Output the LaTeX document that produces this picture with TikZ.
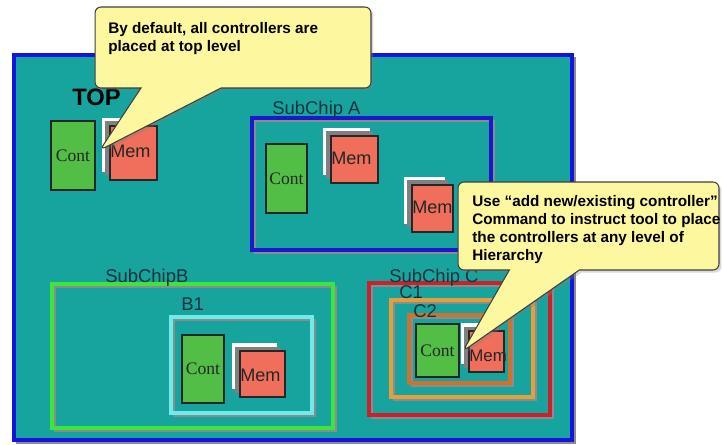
\documentclass[tikz,border=0pt]{standalone}
\usepackage{fontspec}
\setmainfont{Liberation Sans}
\newfontfamily\lserif{Liberation Serif}
\usetikzlibrary{shapes.callouts,shadows}
\definecolor{tealbg}{RGB}{24,164,158}
\definecolor{topblue}{RGB}{20,20,225}
\definecolor{subablue}{RGB}{25,25,205}
\definecolor{subbgreen}{RGB}{60,230,60}
\definecolor{bcyan}{RGB}{110,235,235}
\definecolor{subcred}{RGB}{200,35,45}
\definecolor{c1orange}{RGB}{225,160,60}
\definecolor{c2orange}{RGB}{205,115,45}
\definecolor{contgreen}{RGB}{82,190,70}
\definecolor{memred}{RGB}{240,110,92}
\definecolor{lblcol}{RGB}{20,50,60}
\definecolor{callyellow}{RGB}{253,247,160}
\begin{document}
\begin{tikzpicture}[x=0.02cm,y=-0.02cm,
  chipshadow/.style={draw=black!45, line width=1.3pt},
  chip/.style={line width=1.9pt},
  contbox/.style={draw=black!85, fill=contgreen, line width=0.9pt},
  membox/.style={draw=black!85, fill=memred, line width=0.9pt},
  memhi/.style={fill=white},
  memlo/.style={fill=black!50},
  conttext/.style={font=\lserif\fontsize{10}{12}\selectfont, text=black!85, inner sep=0},
  memtext/.style={font=\fontsize{10.3}{12}\selectfont, text=black!85, inner sep=0, anchor=base west},
  lbl/.style={font=\fontsize{10.5}{12}\selectfont, text=lblcol, inner sep=0, anchor=base west},
  callout/.style={rectangle callout, draw=black!75, fill=callyellow, line width=0.6pt,
    rounded corners=0.12cm, inner sep=0,
    drop shadow={shadow xshift=0.05cm, shadow yshift=-0.05cm, opacity=0.3}},
  callouttext/.style={font=\bfseries\fontsize{8.7}{10.2}\selectfont, align=left, anchor=north west, inner sep=0}
]
\useasboundingbox (0,0) rectangle (722,444);

% top level
\draw[chipshadow] (17,58) rectangle (575,443);
\fill[tealbg] (14,55) rectangle (572,440);
\draw[topblue, line width=2.3pt] (14,55) rectangle (572,440);
\node[font=\bfseries\fontsize{13.5}{15}\selectfont, inner sep=0, anchor=base west] (toplbl) at (72,105) {TOP};

% top cont/mem
\path[contbox] (51,121) rectangle (95,190);
\node[conttext] (c0) at (73,155.5) {Cont};
\fill[memhi] (102,118) rectangle (149,172);
\fill[memlo] (105,121) rectangle (152,175);
\path[membox] (110,126) rectangle (157,180);
\node[memtext] (m0) at (110,157) {Mem};

% SubChip A
\draw[chipshadow] (255,121) rectangle (494,253);
\draw[chip, subablue] (252,118) rectangle (491,250);
\node[lbl] (la) at (272,114) {SubChip A};
\path[contbox] (266,144) rectangle (307,213);
\node[conttext] (ca) at (286.5,178.5) {Cont};
\fill[memhi] (323,128) rectangle (370,175);
\fill[memlo] (326,131) rectangle (373,178);
\path[membox] (331,136) rectangle (378,183);
\node[memtext] (ma1) at (331,164) {Mem};
\fill[memhi] (404,177) rectangle (445,224);
\fill[memlo] (407,180) rectangle (448,227);
\path[membox] (412,185) rectangle (453,232);
\node[memtext] (ma2) at (412,213) {Mem};

% SubChipB
\draw[chipshadow] (55,287) rectangle (336,431);
\draw[chip, subbgreen] (52,284) rectangle (333,428);
\node[lbl] (lb) at (105,282) {SubChipB};
\draw[chipshadow] (174,320) rectangle (315,416);
\draw[chip, bcyan] (171,317) rectangle (312,413);
\node[lbl] (lb1) at (181,310) {B1};
\path[contbox] (182,335) rectangle (224,403);
\node[conttext] (cb) at (203,369) {Cont};
\fill[memhi] (232,343) rectangle (277,389);
\fill[memlo] (235,347) rectangle (280,393);
\path[membox] (240,351) rectangle (285,397);
\node[memtext] (mb) at (240,381) {Mem};

% SubChip C
\draw[chipshadow] (372,286) rectangle (553,418);
\draw[chip, subcred] (369,283) rectangle (550,415);
\node[lbl] (lc) at (389,282) {SubChip C};
\draw[chipshadow] (394,303) rectangle (536,400);
\draw[chip, c1orange] (391,300) rectangle (533,397);
\node[lbl] (lc1) at (399,298) {C1};
\draw[chipshadow] (412,318) rectangle (513,386);
\draw[chip, c2orange] (409,315) rectangle (510,383);
\node[lbl] (lc2) at (413,317) {C2};
\path[contbox] (416,324) rectangle (459,377);
\node[conttext] (cc) at (437.5,350.5) {Cont};
\fill[memhi] (461,323) rectangle (496,364);
\fill[memlo] (464,327) rectangle (499,368);
\path[membox] (469,331) rectangle (504,372);
\node[memtext, font=\fontsize{9.6}{11}\selectfont] (mc) at (469,361) {Mem};

% callouts
\coordinate (tip1) at (100,150);
\coordinate (tip2) at (463,351);
\node[callout, minimum width=5.52cm, minimum height=1.62cm,
  callout absolute pointer={(tip1)}, callout pointer width=1.6cm] (call1) at (233,47.5) {};
\node[callouttext] (t1) at (108,22) {By default, all controllers are\\placed at top level};
\node[callout, minimum width=5.22cm, minimum height=1.76cm,
  callout absolute pointer={(tip2)}, callout pointer width=1.4cm] (call2) at (588.5,226) {};
\node[callouttext] (t2) at (472,195) {Use “add new/existing controller”\\Command to instruct tool to place\\the controllers at any level of\\Hierarchy};
\end{tikzpicture}
\end{document}
